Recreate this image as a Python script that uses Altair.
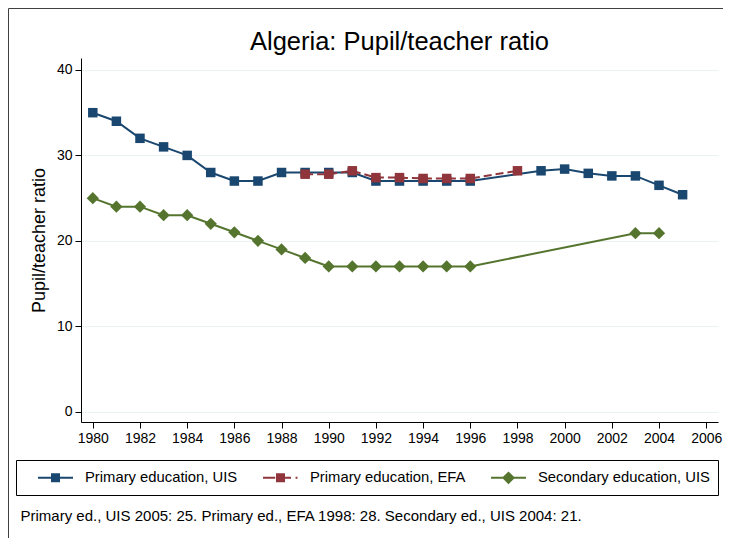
import altair as alt
import pandas as pd

title_text = "Algeria: Pupil/teacher ratio"
y_title = "Pupil/teacher ratio"
footnote = "Primary ed., UIS 2005: 25. Primary ed., EFA 1998: 28. Secondary ed., UIS 2004: 21."

series_names = ["Primary education, UIS", "Primary education, EFA", "Secondary education, UIS"]
series_colors = ["#1a476f", "#90353b", "#55752f"]

uis_years = [1980, 1981, 1982, 1983, 1984, 1985, 1986, 1987, 1988, 1989, 1990, 1991,
             1992, 1993, 1994, 1995, 1996, 1999, 2000, 2001, 2002, 2003, 2004, 2005]
uis_values = [35, 34, 32, 31, 30, 28, 27, 27, 28, 28, 28, 28,
              27, 27, 27, 27, 27, 28.2, 28.4, 27.9, 27.6, 27.6, 26.5, 25.4]

efa_years = [1989, 1990, 1991, 1992, 1993, 1994, 1995, 1996, 1998]
efa_values = [27.8, 27.8, 28.2, 27.4, 27.4, 27.3, 27.3, 27.3, 28.2]

sec_years = [1980, 1981, 1982, 1983, 1984, 1985, 1986, 1987, 1988, 1989, 1990, 1991,
             1992, 1993, 1994, 1995, 1996, 2003, 2004]
sec_values = [25, 24, 24, 23, 23, 22, 21, 20, 19, 18, 17, 17,
              17, 17, 17, 17, 17, 20.9, 20.9]

x_ticks = list(range(1980, 2007, 2))
y_ticks = [0, 10, 20, 30, 40]

FONT = "Liberation Sans"

frames = []
for name, yrs, vals in [(series_names[0], uis_years, uis_values),
                        (series_names[1], efa_years, efa_values),
                        (series_names[2], sec_years, sec_values)]:
    frames.append(pd.DataFrame({"series": name, "year": yrs, "value": vals}))
df_all = pd.concat(frames, ignore_index=True)

X = alt.X("year:Q",
          scale=alt.Scale(domain=[1979.5, 2006.5], nice=False, zero=False),
          axis=alt.Axis(values=x_ticks, format="d", grid=False, tickSize=6,
                        labelFontSize=14, labelPadding=3, labelFont=FONT,
                        labelColor="black", domainColor="black", tickColor="black",
                        title=footnote, titleFont=FONT, titleFontSize=15,
                        titleFontWeight="normal", titleAlign="left",
                        titleBaseline="middle", titleX=-61, titleY=93,
                        titleColor="black"))
Y = alt.Y("value:Q",
          scale=alt.Scale(domain=[-1.2, 41.4], nice=False, zero=False),
          axis=alt.Axis(values=y_ticks, grid=True, gridColor="#eaf2f3", gridWidth=1,
                        tickSize=6, labelFontSize=14, labelPadding=3, labelFont=FONT,
                        labelColor="black", domainColor="black", tickColor="black",
                        title=y_title, titleFont=FONT, titleFontSize=18,
                        titleFontWeight="normal", titlePadding=8, titleColor="black"))

border_df = pd.DataFrame({"a": [0]})
layers = []
# legend frame
layers.append(alt.Chart(border_df).mark_rect(fill="white", stroke="black", strokeWidth=1)
              .encode(x=alt.value(-64.5), x2=alt.value(637.5),
                      y=alt.value(402.5), y2=alt.value(437.5)))

styles = [
    dict(shape="square", size=90, dash=None),
    dict(shape="square", size=90, dash=[8, 4]),
    dict(shape="diamond", size=150, dash=None),
]
for i, name in enumerate(series_names):
    base = alt.Chart(df_all).transform_filter(alt.datum.series == name)
    line_kw = dict(color=series_colors[i], strokeWidth=2)
    if styles[i]["dash"]:
        line_kw["strokeDash"] = styles[i]["dash"]
    layers.append(base.mark_line(**line_kw).encode(x=X, y=Y))
    layers.append(base.mark_point(filled=True, opacity=1, shape=styles[i]["shape"],
                                  size=styles[i]["size"], color=series_colors[i])
                  .encode(x=X, y=Y))

# legend symbols: path units are 17.5 px (symbol size 1225 -> 35 px wide)
legend_paths = [
    "M-1,-0.057L1,-0.057L1,0.057L-1,0.057Z M-0.257,-0.257L0.257,-0.257L0.257,0.257L-0.257,0.257Z",
    "M-1,-0.057L-0.3,-0.057L-0.3,0.057L-1,0.057Z M-0.257,-0.257L0.257,-0.257L0.257,0.257L-0.257,0.257Z "
    "M0.25,-0.057L0.6,-0.057L0.6,0.057L0.25,0.057Z M0.86,-0.057L0.97,-0.057L0.97,0.057L0.86,0.057Z",
    "M-1,-0.057L1,-0.057L1,0.057L-1,0.057Z M0,-0.37L0.37,0L0,0.37L-0.37,0Z",
]
legend_layer = (alt.Chart(df_all).transform_filter("datum.year < 0")
                .mark_point(filled=True, opacity=1, size=1225)
                .encode(x=X, y=Y,
                        color=alt.Color("series:N", title=None,
                                        scale=alt.Scale(domain=series_names, range=series_colors)),
                        shape=alt.Shape("series:N", title=None,
                                        scale=alt.Scale(domain=series_names, range=legend_paths))))
layers.append(legend_layer)

layers.append(alt.Chart(border_df).mark_rule(color="#404040", strokeWidth=1)
              .encode(x=alt.value(-72.5), x2=alt.value(660), y=alt.value(-49.5)))
layers.append(alt.Chart(border_df).mark_rule(color="#404040", strokeWidth=1)
              .encode(x=alt.value(-72.5), y=alt.value(-49.5), y2=alt.value(485)))

chart = (alt.layer(*layers)
         .properties(width=637, height=364,
                     autosize=alt.AutoSizeParams(type="none"),
                     padding={"left": 73, "top": 50, "right": 5, "bottom": 116},
                     background="white",
                     title=alt.TitleParams(title_text, font=FONT, fontSize=25.5,
                                           fontWeight="normal", anchor="middle",
                                           frame="group", baseline="alphabetic",
                                           offset=0, dy=67, color="black"))
         .configure_view(stroke=None)
         .configure_legend(orient="none", legendX=-43, legendY=402,
                           direction="horizontal", columns=3, padding=0,
                           symbolOffset=0, labelOffset=12, labelFontSize=14.8,
                           labelFont=FONT, labelColor="black", columnPadding=25,
                           symbolStrokeWidth=0, labelLimit=400, symbolSize=1225))

chart.save("out.html", embed_options={"renderer": "svg", "actions": False})
